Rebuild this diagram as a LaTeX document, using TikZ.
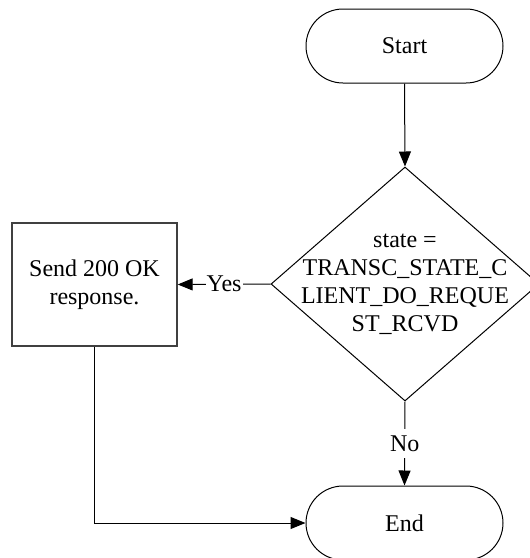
\documentclass[tikz,border=0pt]{standalone}
\usepackage{fontspec}
\setmainfont{Liberation Serif}
\usetikzlibrary{shapes.geometric,arrows.meta}

\tikzset{
  base/.style={font=\fontsize{24}{28}\selectfont, align=center},
  terminal/.style={base, draw, line width=1pt, rounded corners=37pt,
    minimum width=197pt, minimum height=74pt, inner sep=0pt},
  decision/.style={draw, line width=1pt, shape=diamond, inner sep=0pt,
    minimum width=268pt, minimum height=234pt},
  process/.style={base, draw=black!75, line width=1.4pt,
    minimum width=165pt, minimum height=123pt, inner sep=0pt},
  flow/.style={line width=1pt, -{Triangle[length=15pt,width=12pt]}},
  branch/.style={base, fill=white, inner xsep=1pt, inner ysep=7pt}
}

\begin{document}
\begin{tikzpicture}[x=1pt, y=-1pt]
  \useasboundingbox (0,0) rectangle (530,558);

  \node[terminal] (start) at (404.5,46) {Start};
  \node[decision] (dec) at (405,284) {};
  \node[base] (dectext) at (dec.center)
    {state =\\TRANSC\_STATE\_C\\LIENT\_DO\_REQUE\\ST\_RCVD};
  \node[process] (send) at (94.5,284.5) {Send 200 OK\\response.};
  \node[terminal] (end) at (404.5,523) {End};

  \draw[flow] (start.south) -- (dec.north);
  \draw[flow] (dec.west) -- node[branch] {Yes} (send.east);
  \draw[flow] (dec.south) -- node[branch] {No} (end.north);
  \draw[flow] (send.south) |- (end.west);
\end{tikzpicture}
\end{document}
